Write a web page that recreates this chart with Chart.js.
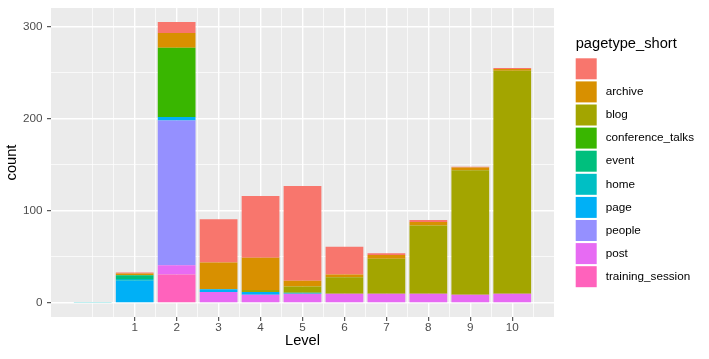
<!DOCTYPE html>
<html>
<head>
<meta charset="utf-8">
<script src="https://cdn.jsdelivr.net/npm/chart.js"></script>
<style>
  html, body { margin: 0; padding: 0; background: #fff; }
</style>
</head>
<body>
<canvas id="levelChart" width="709" height="359"></canvas>
<script>
// Levels on the x axis (first bar has no label)
const levels = [0, 1, 2, 3, 4, 5, 6, 7, 8, 9, 10];

// Legend order, top of stack first
const pageTypes = ['', 'archive', 'blog', 'conference_talks', 'event', 'home', 'page', 'people', 'post', 'training_session'];
const typeColors = ['#F8766D', '#D89000', '#A3A500', '#39B600', '#00BF7D', '#00BFC4', '#00B0F6', '#9590FF', '#E76BF3', '#FF62BC'];

// counts per level, one array per page type
const blankCounts      = [0, 1, 12, 47, 67, 103, 30, 2, 2, 1, 1];
const archiveCounts    = [0, 2, 16, 29, 35, 6, 3, 4, 4, 3, 2];
const blogCounts       = [0, 0, 0, 0, 2, 7, 18, 38, 74, 135, 242];
const conferenceCounts = [0, 0, 75, 0, 0, 0, 0, 0, 0, 0, 0];
const eventCounts      = [0, 4, 0, 0, 0, 0, 0, 0, 0, 0, 0];
const homeCounts       = [1, 2, 0, 0, 0, 1, 0, 0, 0, 0, 0];
const pageCounts       = [0, 24, 4, 3, 3, 0, 0, 0, 0, 0, 0];
const peopleCounts     = [0, 0, 157, 0, 0, 0, 0, 0, 0, 0, 0];
const postCounts       = [0, 0, 10, 12, 9, 10, 10, 10, 10, 9, 10];
const trainingCounts   = [0, 0, 31, 0, 0, 0, 0, 0, 0, 0, 0];

const countsByType = [blankCounts, archiveCounts, blogCounts, conferenceCounts, eventCounts,
  homeCounts, pageCounts, peopleCounts, postCounts, trainingCounts];

// ticks and grid lines
const xMajorTicks = [1, 2, 3, 4, 5, 6, 7, 8, 9, 10];
const xMinorTicks = [0, 0.5, 1.5, 2.5, 3.5, 4.5, 5.5, 6.5, 7.5, 8.5, 9.5, 10.5];
const yMajorTicks = [0, 100, 200, 300];
const yMinorTicks = [50, 150, 250];

const fontFamily = '"Liberation Sans", Arial, Helvetica, sans-serif';
Chart.defaults.font.family = fontFamily;

// stack totals -> ggplot style 5% expansion
const totals = levels.map((_, i) => countsByType.reduce((s, arr) => s + arr[i], 0));
const yTop = Math.max(...totals);

// bottom of the stack first for Chart.js
// (the bar ruler also sees the half-step grid ticks, hence categoryPercentage 2)
const datasets = [];
for (let t = pageTypes.length - 1; t >= 0; t--) {
  datasets.push({
    label: pageTypes[t],
    data: levels.map((lv, i) => ({ x: lv, y: countsByType[t][i] })),
    backgroundColor: typeColors[t],
    borderWidth: 0,
    barPercentage: 0.9,
    categoryPercentage: 2.0
  });
}

const isMajor = (c, list) => !!(c.tick && list.includes(c.tick.value));

const panelBackground = {
  id: 'panelBackground',
  beforeDraw(chart) {
    const { ctx, chartArea: a } = chart;
    ctx.save();
    ctx.fillStyle = '#EBEBEB';
    ctx.fillRect(a.left, a.top, a.right - a.left, a.bottom - a.top);
    ctx.restore();
  }
};

// ggplot-like legend on the right
const sideLegend = {
  id: 'sideLegend',
  afterDraw(chart) {
    const ctx = chart.ctx;
    const left = chart.chartArea.right + 21.7;
    ctx.save();
    ctx.fillStyle = '#000';
    ctx.font = '14.67px ' + fontFamily;
    ctx.textBaseline = 'alphabetic';
    ctx.fillText('pagetype_short', left, 48.3);
    ctx.font = '11.7px ' + fontFamily;
    ctx.textBaseline = 'middle';
    pageTypes.forEach((name, i) => {
      const top = 58.3 + i * 23.1;
      ctx.fillStyle = typeColors[i];
      ctx.fillRect(left, top, 21, 21);
      ctx.fillStyle = '#000';
      ctx.fillText(name, left + 30, top + 10.5);
    });
    ctx.restore();
  }
};

const ctx = document.getElementById('levelChart').getContext('2d');
new Chart(ctx, {
  type: 'bar',
  data: { datasets: datasets },
  plugins: [panelBackground, sideLegend],
  options: {
    responsive: false,
    animation: false,
    events: [],
    layout: { padding: { top: 8, right: 155, bottom: 0, left: 0 } },
    plugins: {
      legend: { display: false },
      tooltip: { enabled: false }
    },
    scales: {
      x: {
        type: 'linear',
        stacked: true,
        offset: false,
        min: -0.995,
        max: 10.995,
        afterBuildTicks: (scale) => {
          scale.ticks = xMajorTicks.concat(xMinorTicks).sort((a, b) => a - b).map(v => ({ value: v }));
        },
        afterFit: (scale) => {
          scale.height = 42;
          scale.paddingLeft = 0;
          scale.paddingRight = 0;
        },
        ticks: {
          autoSkip: false,
          maxRotation: 0,
          padding: 0,
          color: '#4D4D4D',
          font: { size: 11.7 },
          callback: (v) => xMajorTicks.includes(v) ? String(v) : ''
        },
        grid: {
          offset: false,
          color: '#FFFFFF',
          lineWidth: (c) => isMajor(c, xMajorTicks) ? 1.4 : 0.7,
          tickColor: (c) => isMajor(c, xMajorTicks) ? '#333333' : 'rgba(0,0,0,0)',
          tickWidth: 1,
          tickLength: 4
        },
        border: { display: false },
        title: {
          display: true,
          text: 'Level',
          color: '#000',
          font: { size: 14.67 },
          padding: { top: 0, bottom: 9 }
        }
      },
      y: {
        stacked: true,
        min: -0.05 * yTop,
        max: 1.05 * yTop,
        afterBuildTicks: (scale) => {
          scale.ticks = yMajorTicks.concat(yMinorTicks).sort((a, b) => a - b).map(v => ({ value: v }));
        },
        afterFit: (scale) => {
          scale.width = 51;
          scale.paddingTop = 0;
          scale.paddingBottom = 0;
        },
        ticks: {
          autoSkip: false,
          padding: 4.5,
          color: '#4D4D4D',
          font: { size: 11.7 },
          callback: (v) => yMajorTicks.includes(v) ? String(v) : ''
        },
        grid: {
          color: '#FFFFFF',
          lineWidth: (c) => isMajor(c, yMajorTicks) ? 1.4 : 0.7,
          tickColor: (c) => isMajor(c, yMajorTicks) ? '#333333' : 'rgba(0,0,0,0)',
          tickWidth: 1,
          tickLength: 4
        },
        border: { display: false },
        title: {
          display: true,
          text: 'count',
          color: '#000',
          font: { size: 14.67 },
          padding: { top: 3, bottom: 0 }
        }
      }
    }
  }
});
</script>
</body>
</html>
